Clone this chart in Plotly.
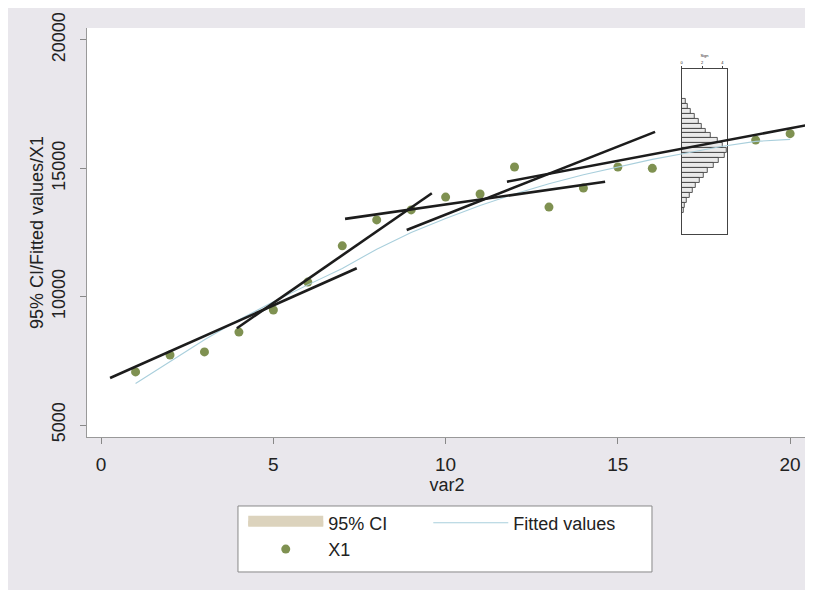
import plotly.graph_objects as go

# ---- data ----
var2 = list(range(1, 17)) + [19, 20]
x1_vals = [7070, 7730, 7850, 8620, 9480, 10570, 11980, 12990, 13380, 13880,
           14000, 15050, 13490, 14230, 15050, 15000, 16100, 16350]

fit_x = list(range(1, 21))
fit_vals = [6620, 7480, 8320, 9100, 9800, 10460, 11100, 11850, 12500, 13050,
            13550, 14000, 14400, 14750, 15050, 15350, 15600, 15850, 16050, 16130]

# segment regression lines (start / end)
seg_x0 = [0.26, 3.94, 7.08, 8.87, 11.78]
seg_y0 = [6830, 8770, 13030, 12600, 14480]
seg_x1 = [7.42, 9.60, 14.63, 16.08, 20.67]
seg_y1 = [11110, 14030, 14480, 16420, 16730]

# inset histogram (horizontal bars, top to bottom)
hist_bins = list(range(23))
hist_counts = [0.4, 0.6, 0.9, 1.3, 1.7, 2.0, 2.4, 2.9, 3.5, 4.0, 4.4, 4.2,
               3.6, 3.1, 2.6, 2.2, 1.8, 1.4, 1.1, 0.8, 0.5, 0.3, 0.2]
hist_ticks = [0, 2, 4]

FONT = "Liberation Sans, Arial, sans-serif"

fig = go.Figure()

# inset histogram
fig.add_trace(go.Bar(
    x=hist_counts, y=hist_bins, orientation="h",
    marker=dict(color="rgba(225,225,225,0.7)", line=dict(color="#444444", width=0.9)),
    width=1.0, xaxis="x", yaxis="y", showlegend=False, hoverinfo="skip"))

# legend-only CI swatch
fig.add_trace(go.Scatter(
    x=[None], y=[None], mode="lines", fill="toself", name="95% CI",
    fillcolor="#dcd3bd", line=dict(width=30, color="#dcd3bd"),
    xaxis="x2", yaxis="y2", legend="legend"))

fig.add_trace(go.Scatter(
    x=var2, y=x1_vals, mode="markers", name="X1",
    marker=dict(color="#7f9151", size=9), xaxis="x2", yaxis="y2", legend="legend"))

fig.add_trace(go.Scatter(
    x=fit_x, y=fit_vals, mode="lines", name="Fitted values",
    line=dict(color="#a9cfdc", width=1.1), xaxis="x2", yaxis="y2", legend="legend2"))

for i in range(len(seg_x0)):
    fig.add_trace(go.Scatter(
        x=[seg_x0[i], seg_x1[i]], y=[seg_y0[i], seg_y1[i]], mode="lines",
        line=dict(color="#1c1c1c", width=2.6), showlegend=False,
        xaxis="x2", yaxis="y2", hoverinfo="skip"))

# white plot region (behind everything) and legend frame
fig.add_shape(type="rect", xref="x2 domain", yref="y2 domain", x0=0, x1=1, y0=0, y1=1,
              fillcolor="white", line=dict(width=0), layer="below")
fig.add_shape(type="rect", xref="paper", yref="paper", x0=0.2097, x1=0.7847,
              y0=-0.330, y1=-0.1687, fillcolor="white",
              line=dict(color="#888888", width=1), layer="below")

legend_common = dict(bgcolor="rgba(0,0,0,0)", borderwidth=0,
                     font=dict(size=18, family=FONT), orientation="v",
                     yanchor="top", xanchor="left", itemwidth=75,
                     tracegroupgap=0)

fig.update_layout(
    width=813, height=590,
    margin=dict(l=79, r=14, t=20, b=161, autoexpand=False),
    paper_bgcolor="#e9e7ec", plot_bgcolor="rgba(0,0,0,0)",
    font=dict(family=FONT, color="#222222"),
    showlegend=True,
    legend=dict(x=0.217, y=-0.165, **legend_common),
    legend2=dict(x=0.474, y=-0.165, **legend_common),
    # main axes
    xaxis2=dict(domain=[0, 1], anchor="y2", range=[-0.41, 20.49], automargin=False,
                tickvals=[0, 5, 10, 15, 20], ticks="outside", ticklen=6,
                tickcolor="#888888", showgrid=False, zeroline=False,
                showline=True, linecolor="#999999", linewidth=1,
                ticklabelstandoff=4,
                tickfont=dict(size=19), title=dict(text="var2", font=dict(size=18), standoff=0)),
    yaxis2=dict(domain=[0, 1], anchor="x2", range=[4534, 20467], automargin=False,
                tickvals=[5000, 10000, 15000, 20000], tickformat="d",
                ticks="outside", ticklen=6,
                tickcolor="#888888", showgrid=False, zeroline=False,
                showline=True, linecolor="#999999", linewidth=1,
                tickangle=-90, tickfont=dict(size=18), ticklabelstandoff=8,
                title=dict(text="95% CI/Fitted values/X1", font=dict(size=18), standoff=0)),
    # inset histogram axes
    xaxis=dict(domain=[0.826, 0.889], anchor="y", range=[0, 4.46], side="top",
               automargin=False,
               tickvals=hist_ticks, ticks="outside", ticklen=2, tickfont=dict(size=4),
               showgrid=False, zeroline=False, showline=True, mirror=True,
               linecolor="#444444", linewidth=1,
               title=dict(text="Sign", font=dict(size=4), standoff=2)),
    yaxis=dict(domain=[0.496, 0.900], anchor="x", range=[26.9, -6.55], automargin=False,
               showticklabels=False, showgrid=False, zeroline=False,
               showline=True, mirror=True, linecolor="#444444", linewidth=1),
    bargap=0,
)

fig.write_html("out.html")
